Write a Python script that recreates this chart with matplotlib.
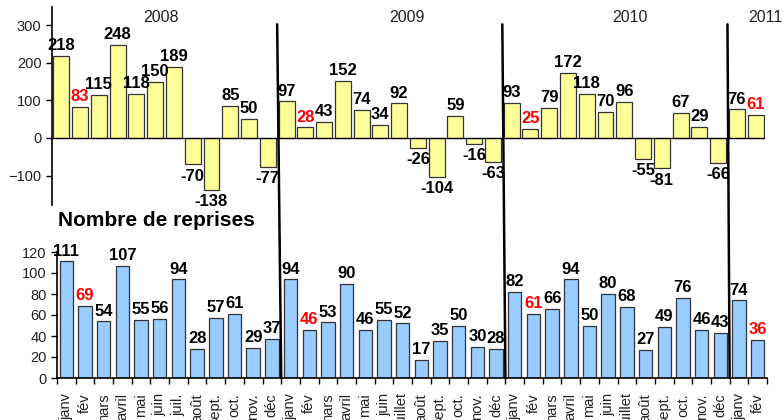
import matplotlib.pyplot as plt
from matplotlib.patches import ConnectionPatch

plt.rcParams['font.family'] = ['Liberation Sans', 'DejaVu Sans']

# données
mois_2008 = ['janv', 'fév', 'mars', 'avril', 'mai', 'juin', 'juil.', 'août', 'sept.', 'oct.', 'nov.', 'déc']
mois_2009 = ['janv', 'fév', 'mars', 'avril', 'mai', 'juin', 'juillet', 'août', 'sept.', 'oct.', 'nov.', 'déc']
mois_2010 = ['janv', 'fév', 'mars', 'avril', 'mai', 'juin', 'juillet', 'août', 'sept.', 'oct.', 'nov.', 'déc']
mois_2011 = ['janv', 'fév']
mois = mois_2008 + mois_2009 + mois_2010 + mois_2011

variation = [218, 83, 115, 248, 118, 150, 189, -70, -138, 85, 50, -77,
             97, 28, 43, 152, 74, 34, 92, -26, -104, 59, -16, -63,
             93, 25, 79, 172, 118, 70, 96, -55, -81, 67, 29, -66,
             76, 61]
reprises = [111, 69, 54, 107, 55, 56, 94, 28, 57, 61, 29, 37,
            94, 46, 53, 90, 46, 55, 52, 17, 35, 50, 30, 28,
            82, 61, 66, 94, 50, 80, 68, 27, 49, 76, 46, 43,
            74, 36]
annees = ['2008', '2009', '2010', '2011']
annees_pos = [5.3, 18.4, 30.3, 37.5]
rouges = [1, 13, 25, 37]  # les mois de février en rouge
separations = [11.5, 23.5, 35.5]

x = list(range(len(mois)))

fig = plt.figure(figsize=(7.83, 4.2), dpi=100)
ax1 = fig.add_axes([52 / 783, 1 - 205 / 420, 713 / 783, 198 / 420])
ax2 = fig.add_axes([57 / 783, 0.1, 710 / 783, 0.3])

# graphique du haut
ax1.bar(x, variation, width=0.85, color='#FFFF99', edgecolor='#333333', linewidth=0.9)
ax1.axhline(0, color='black', lw=0.9)
ax1.set_xlim(-0.5, 37.5)
ax1.set_ylim(-178, 348)
ax1.set_yticks([-100, 0, 100, 200, 300])
ax1.set_xticks([])
for s in ['top', 'right', 'bottom']:
    ax1.spines[s].set_visible(False)
ax1.spines['left'].set_linewidth(1.2)
ax1.tick_params(axis='y', labelsize=10.5, length=4, width=1, labelcolor='#222222')
for i, v in enumerate(variation):
    couleur = 'red' if i in rouges else 'black'
    ax1.annotate(str(v), (i, v), xytext=(0, 2 if v >= 0 else -3), textcoords='offset points',
                 ha='center', va='bottom' if v >= 0 else 'top',
                 fontsize=12, fontweight='bold', color=couleur)
for a, p in zip(annees, annees_pos):
    ax1.text(p, 320, a, ha='center', va='center', fontsize=11.5, color='#222222')

# graphique du bas
ax2.bar(x, reprises, width=0.72, color='#99CCFF', edgecolor='#333333', linewidth=0.9)
ax2.set_xlim(-0.5, 37.5)
ax2.set_ylim(0, 120)
ax2.set_yticks(range(0, 121, 20))
ax2.set_xticks(x)
ax2.set_xticklabels(mois, rotation=90, va='top', fontsize=10.5, color='#222222')
ax2.set_xticks([i - 0.5 for i in range(len(mois) + 1)], minor=True)
ax2.tick_params(axis='x', which='major', length=0, pad=11)
ax2.tick_params(axis='x', which='minor', length=4, width=1)
ax2.tick_params(axis='y', labelsize=10.5, length=4, width=1, labelcolor='#222222')
for s in ['top', 'right']:
    ax2.spines[s].set_visible(False)
ax2.spines['left'].set_linewidth(1.2)
ax2.spines['bottom'].set_linewidth(1.2)
for i, v in enumerate(reprises):
    couleur = 'red' if i in rouges else 'black'
    ax2.annotate(str(v), (i, v), xytext=(0, 2), textcoords='offset points',
                 ha='center', va='bottom', fontsize=12, fontweight='bold', color=couleur)
ax2.text(-0.45, 150, 'Nombre de reprises', fontsize=15, fontweight='bold', ha='left', va='center')

# séparations des années
for s in separations:
    con = ConnectionPatch(xyA=(s, 302), coordsA=ax1.transData, xyB=(s, 0), coordsB=ax2.transData,
                          color='black', lw=1.8)
    fig.add_artist(con)

plt.savefig('out.png', dpi=100)
